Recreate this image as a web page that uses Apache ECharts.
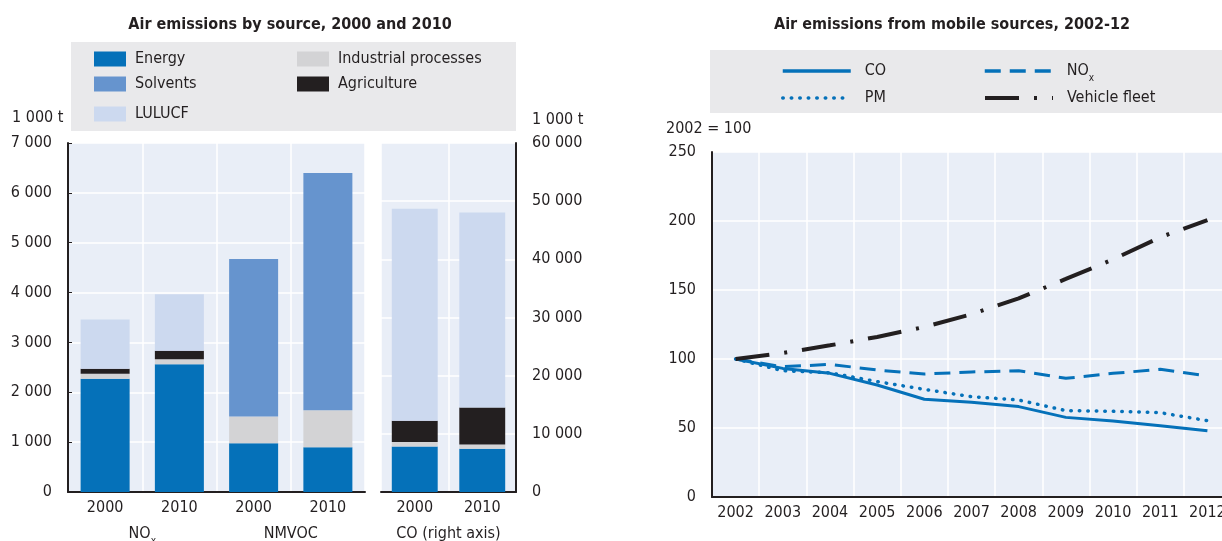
<!DOCTYPE html>
<html>
<head>
<meta charset="utf-8">
<script src="https://cdn.jsdelivr.net/npm/echarts@6/dist/echarts.min.js"></script>
<style>
  html, body { margin: 0; padding: 0; background: #fff; }
  #main { width: 1222px; height: 541px; }
</style>
</head>
<body>
<div id="main"></div>
<script>
// left chart: air emissions by source (1 000 t)
const barYears = ['2000', '2010', '2000', '2010'];
const barGroups = ['NOx', 'NMVOC'];
const energy = [2270, 2560, 980, 900];
const industrial = [100, 105, 535, 740];
const agriculture = [100, 170, 0, 0];
const solvents = [0, 0, 3160, 4760];
const lulucf = [990, 1130, 0, 0];

// CO on the right axis
const coYears = ['2000', '2010'];
const coGroups = ['CO (right axis)'];
const coEnergy = [7830, 7440];
const coIndustrial = [760, 740];
const coAgriculture = [3660, 6360];
const coSolvents = [0, 0];
const coLulucf = [36430, 33500];

// right chart: mobile sources, 2002 = 100
const years = ['2002', '2003', '2004', '2005', '2006', '2007', '2008', '2009', '2010', '2011', '2012'];
const coLine = [100, 93.2, 89.6, 81.2, 70.8, 68.6, 65.5, 57.7, 55.1, 51.7, 48];
const noxLine = [100, 94.4, 96.1, 92, 89.1, 90.6, 91.5, 86, 89.6, 92.5, 87.7];
const pmLine = [100, 91.5, 90, 83.6, 78, 72.7, 70.3, 62.6, 62.1, 61.1, 55.3];
const fleetLine = [100, 104.3, 109.9, 116, 123.2, 132.4, 144, 158, 172.2, 188.2, 200.7];

const FONT = "'Liberation Sans Narrow', 'DejaVu Sans Condensed', sans-serif";
const TXT = '#231f20';
const BG = '#e9eef7';
const C = {
  energy: '#0571b9', solvents: '#6694ce', lulucf: '#ccd9ef',
  industrial: '#d3d3d5', agriculture: '#231f20', blue: '#0571b9'
};

const thousands = v => String(v).replace(/\B(?=(\d{3})+(?!\d))/g, ' ');
const subRich = {
  n: { fontSize: 16, fontFamily: FONT, color: TXT, lineHeight: 18 },
  s: { fontSize: 10, fontFamily: FONT, color: TXT, lineHeight: 10, verticalAlign: 'bottom', padding: [0, 0, -3, 0] }
};
const noxFmt = v => v === 'NOx' ? '{n|NO}{s|x}' : '{n|' + v + '}';

const chart = echarts.init(document.getElementById('main'));

function barSeries(name, data, color, xi, yi) {
  return {
    name: name, type: 'bar', stack: 'src' + xi, data: data,
    xAxisIndex: xi, yAxisIndex: yi, barWidth: xi === 0 ? '66%' : '68%',
    itemStyle: { color: color }, emphasis: { disabled: true }
  };
}

function lineSeries(name, data, color, type, width, cap) {
  return {
    name: name, type: 'line', data: data, xAxisIndex: 4, yAxisIndex: 2,
    symbol: 'none', smooth: false,
    lineStyle: { color: color, width: width, type: type, cap: cap || 'butt' },
    itemStyle: { color: color },
    emphasis: { disabled: true }
  };
}

function barLegend(name, left, top) {
  return {
    data: [name], left: left, top: top, padding: 0,
    itemWidth: 32, itemHeight: 15, icon: 'rect',
    textStyle: { fontFamily: FONT, fontSize: 16, color: TXT, padding: [0, 0, 0, 4] },
    selectedMode: false
  };
}

function lineLegend(name, left, top, width) {
  return {
    data: [name], left: left, top: top, padding: 0,
    itemWidth: 68, itemHeight: 14,
    itemStyle: { opacity: 0 },
    lineStyle: { width: width },
    formatter: noxFmt,
    textStyle: { fontFamily: FONT, fontSize: 16, color: TXT, padding: [0, 0, 0, 9], rich: subRich },
    selectedMode: false
  };
}

const yearAxis = (gi, data) => ({
  type: 'category', gridIndex: gi, data: data, position: 'bottom',
  axisLine: { lineStyle: { color: TXT, width: 2 } },
  axisTick: { length: 28, lineStyle: { color: TXT, width: 1.5 } },
  axisLabel: { margin: 8, fontFamily: FONT, fontSize: 16, color: TXT },
  splitLine: { show: true, lineStyle: { color: '#fff', width: 1.5 } }
});
const groupAxis = (gi, data) => ({
  type: 'category', gridIndex: gi, data: data, position: 'bottom',
  axisLine: { show: false },
  axisTick: { length: 50, lineStyle: { color: TXT, width: 1.5 } },
  axisLabel: { margin: 33, formatter: noxFmt, rich: subRich },
  splitLine: { show: false }
});

chart.setOption({
  animation: false,
  textStyle: { fontFamily: FONT },
  title: [
    { text: 'Air emissions by source, 2000 and 2010', left: 285, top: 12, textAlign: 'center',
      textStyle: { fontFamily: FONT, fontSize: 16, fontWeight: 'bold', color: TXT } },
    { text: 'Air emissions from mobile sources, 2002-12', left: 947, top: 12, textAlign: 'center',
      textStyle: { fontFamily: FONT, fontSize: 16, fontWeight: 'bold', color: TXT } }
  ],
  graphic: [
    { type: 'rect', shape: { x: 71, y: 42, width: 445, height: 89 }, style: { fill: '#e9e9eb' }, z: -1 },
    { type: 'rect', shape: { x: 710, y: 50, width: 520, height: 63 }, style: { fill: '#e9e9eb' }, z: -1 },
    { type: 'text', left: 12, top: 110, style: { text: '1 000 t', font: '16px ' + FONT, fill: TXT } },
    { type: 'text', left: 532, top: 112, style: { text: '1 000 t', font: '16px ' + FONT, fill: TXT } },
    { type: 'text', left: 666, top: 121, style: { text: '2002 = 100', font: '16px ' + FONT, fill: TXT } }
  ],
  legend: [
    barLegend('Energy', 94, 51),
    barLegend('Industrial processes', 297, 51),
    barLegend('Solvents', 94, 76),
    barLegend('Agriculture', 297, 76),
    barLegend('LULUCF', 94, 106),
    lineLegend('CO', 781, 63, 3.5),
    lineLegend('NOx', 983, 63, 3.5),
    lineLegend('PM', 781, 90, 3.5),
    lineLegend('Vehicle fleet', 983, 90, 4)
  ],
  grid: [
    { left: 68, top: 143, width: 297, height: 349, show: true, backgroundColor: BG, borderWidth: 0, outerBoundsMode: 'none' },
    { left: 381, top: 143, width: 135, height: 349, show: true, backgroundColor: BG, borderWidth: 0, outerBoundsMode: 'none' },
    { left: 712, top: 152, width: 519, height: 345, show: true, backgroundColor: BG, borderWidth: 0, outerBoundsMode: 'none' }
  ],
  xAxis: [
    yearAxis(0, barYears),
    yearAxis(1, coYears),
    groupAxis(0, barGroups),
    groupAxis(1, coGroups),
    {
      type: 'category', gridIndex: 2, data: years,
      axisLine: { lineStyle: { color: TXT, width: 2 } },
      axisTick: { length: 5, lineStyle: { color: TXT, width: 1.5 } },
      axisLabel: { margin: 8, interval: 0, fontFamily: FONT, fontSize: 16, color: TXT },
      splitLine: { show: true, lineStyle: { color: '#fff', width: 1.5 } }
    }
  ],
  yAxis: [
    {
      type: 'value', gridIndex: 0, min: 0, max: 7000, interval: 1000,
      axisLine: { show: true, lineStyle: { color: TXT, width: 2 } },
      axisTick: { show: true, inside: true, length: 4, lineStyle: { color: TXT } },
      axisLabel: { margin: 16, fontFamily: FONT, fontSize: 16, color: TXT, formatter: thousands },
      splitLine: { lineStyle: { color: '#fff', width: 1.5 } }
    },
    {
      type: 'value', gridIndex: 1, position: 'right', min: 0, max: 60000, interval: 10000,
      axisLine: { show: true, lineStyle: { color: TXT, width: 2 } },
      axisTick: { show: false },
      axisLabel: { margin: 16, fontFamily: FONT, fontSize: 16, color: TXT, formatter: thousands },
      splitLine: { lineStyle: { color: '#fff', width: 1.5 } }
    },
    {
      type: 'value', gridIndex: 2, min: 0, max: 250, interval: 50,
      axisLine: { show: true, lineStyle: { color: TXT, width: 2 } },
      axisTick: { show: false },
      axisLabel: { margin: 16, fontFamily: FONT, fontSize: 16, color: TXT },
      splitLine: { lineStyle: { color: '#fff', width: 1.5 } }
    }
  ],
  series: [
    barSeries('Energy', energy, C.energy, 0, 0),
    barSeries('Industrial processes', industrial, C.industrial, 0, 0),
    barSeries('Agriculture', agriculture, C.agriculture, 0, 0),
    barSeries('Solvents', solvents, C.solvents, 0, 0),
    barSeries('LULUCF', lulucf, C.lulucf, 0, 0),
    barSeries('Energy', coEnergy, C.energy, 1, 1),
    barSeries('Industrial processes', coIndustrial, C.industrial, 1, 1),
    barSeries('Agriculture', coAgriculture, C.agriculture, 1, 1),
    barSeries('Solvents', coSolvents, C.solvents, 1, 1),
    barSeries('LULUCF', coLulucf, C.lulucf, 1, 1),
    lineSeries('CO', coLine, C.blue, 'solid', 3),
    lineSeries('NOx', noxLine, C.blue, [16, 9], 3),
    lineSeries('PM', pmLine, C.blue, [0.5, 8], 3.5, 'round'),
    lineSeries('Vehicle fleet', fleetLine, '#231f20', [34, 15, 3, 15], 4)
  ]
});
</script>
</body>
</html>
